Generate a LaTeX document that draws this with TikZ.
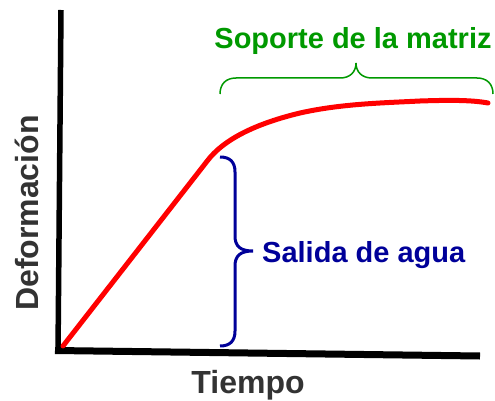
\documentclass[tikz,border=0pt]{standalone}
\usepackage{fontspec}
\setmainfont{Liberation Sans}
\definecolor{axisgray}{HTML}{333333}
\definecolor{bracegreen}{HTML}{009900}
\definecolor{braceblue}{HTML}{000099}
\definecolor{curvered}{HTML}{FF0000}
\begin{document}
\begin{tikzpicture}[x=1pt,y=-1pt,
  axisline/.style={line width=5.5pt,black},
  curveline/.style={line width=5pt,curvered,line cap=round,line join=round},
  greenbrace/.style={line width=1.5pt,bracegreen},
  bluebrace/.style={line width=3pt,braceblue},
  axislabel/.style={font=\fontsize{32}{32}\bfseries\selectfont,text=axisgray,inner sep=0pt,anchor=base},
  notelabel/.style={font=\fontsize{29}{29}\bfseries\selectfont,inner sep=0pt,anchor=base}]
\useasboundingbox (0,0) rectangle (495,401);
\coordinate (ytop) at (61,10);
\coordinate (orig) at (58,351);
\coordinate (xend) at (480,356);
\draw[axisline] (ytop) -- (58,353);
\draw[axisline,line width=7pt] (55,350.5) -- (xend);
% red curve
\coordinate (c0) at (63,346);
\coordinate (c1) at (208,160);
\coordinate (c2) at (488,103);
\draw[curveline] (c0) -- (c1) .. controls (222,142) and (250,125) .. (300,113)
  .. controls (340,104) and (380,103) .. (420,101)
  .. controls (450,100) and (472,100) .. (c2);
% green brace
\coordinate (gl) at (220,94);
\coordinate (gtip) at (356,63);
\coordinate (gr) at (493,94);
\draw[greenbrace] (gl) .. controls (220,84) and (226,78) .. (236,78) -- (340,78)
  .. controls (350,78) and (356,72) .. (gtip)
  .. controls (356,72) and (362,78) .. (372,78) -- (477,78)
  .. controls (487,78) and (493,84) .. (gr);
% blue brace
\coordinate (bt) at (220,157);
\coordinate (btip) at (253,251);
\coordinate (bb) at (220,346);
\draw[bluebrace] (bt) .. controls (230,157) and (235,162) .. (235,172) -- (235,236)
  .. controls (235,246) and (240,251) .. (btip)
  .. controls (240,251) and (235,256) .. (235,266) -- (235,331)
  .. controls (235,341) and (230,346) .. (bb);
% labels
\node[axislabel] (tiempo) at (248,393) {Tiempo};
\node[axislabel,rotate=90] (deform) at (38,213) {Deformación};
\node[notelabel,text=bracegreen] (soporte) at (353,49) {Soporte de la matriz};
\node[notelabel,text=braceblue,anchor=base west] (salida) at (262,262) {Salida de agua};
\end{tikzpicture}
\end{document}
